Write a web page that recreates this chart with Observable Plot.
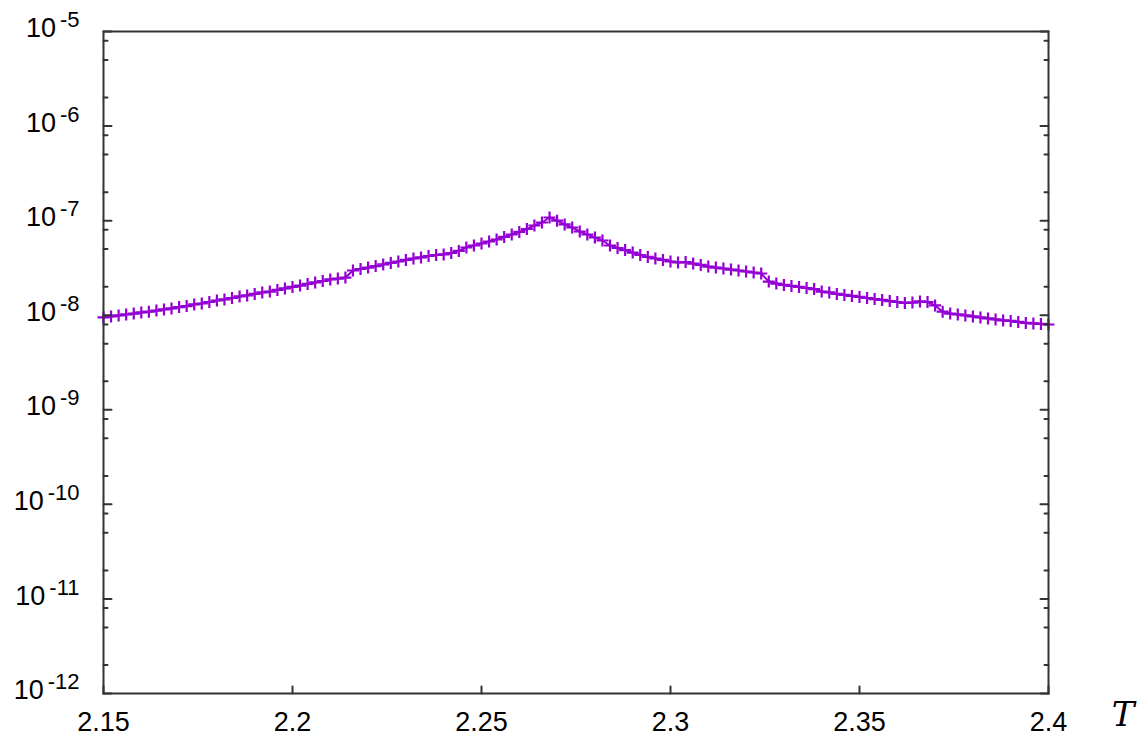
<!DOCTYPE html>
<html><head><meta charset="utf-8">
<script src="https://cdn.jsdelivr.net/npm/d3@7"></script>
<script src="https://cdn.jsdelivr.net/npm/@observablehq/plot@0.6"></script>
<style>html,body{margin:0;padding:0;background:#fff;}</style>
</head><body><div id="chart"></div>
<script>
// Temperature grid (x)
const T = [
  2.150,2.152,2.154,2.156,2.158,2.160,2.162,2.164,2.166,2.168,
  2.170,2.172,2.174,2.176,2.178,2.180,2.182,2.184,2.186,2.188,
  2.190,2.192,2.194,2.196,2.198,2.200,2.202,2.204,2.206,2.208,
  2.210,2.212,2.214,2.216,2.218,2.220,2.222,2.224,2.226,2.228,
  2.230,2.232,2.234,2.236,2.238,2.240,2.242,2.244,2.246,2.248,
  2.250,2.252,2.254,2.256,2.258,2.260,2.262,2.264,2.266,2.268,
  2.270,2.272,2.274,2.276,2.278,2.280,2.282,2.284,2.286,2.288,
  2.290,2.292,2.294,2.296,2.298,2.300,2.302,2.304,2.306,2.308,
  2.310,2.312,2.314,2.316,2.318,2.320,2.322,2.324,2.326,2.328,
  2.330,2.332,2.334,2.336,2.338,2.340,2.342,2.344,2.346,2.348,
  2.350,2.352,2.354,2.356,2.358,2.360,2.362,2.364,2.366,2.368,
  2.370,2.372,2.374,2.376,2.378,2.380,2.382,2.384,2.386,2.388,
  2.390,2.392,2.394,2.396,2.398,2.400
];
// Series values (y, log scale)
const C = [
  9.47e-9,9.70e-9,9.94e-9,1.02e-8,1.04e-8,1.07e-8,1.09e-8,1.12e-8,1.15e-8,1.18e-8,
  1.22e-8,1.25e-8,1.30e-8,1.33e-8,1.38e-8,1.43e-8,1.47e-8,1.52e-8,1.58e-8,1.62e-8,
  1.68e-8,1.74e-8,1.78e-8,1.85e-8,1.92e-8,1.99e-8,2.06e-8,2.14e-8,2.22e-8,2.30e-8,
  2.39e-8,2.44e-8,2.50e-8,2.97e-8,3.08e-8,3.19e-8,3.31e-8,3.44e-8,3.57e-8,3.70e-8,
  3.84e-8,3.98e-8,4.08e-8,4.23e-8,4.33e-8,4.39e-8,4.55e-8,4.78e-8,5.20e-8,5.46e-8,
  5.73e-8,6.02e-8,6.32e-8,6.72e-8,7.14e-8,7.59e-8,8.16e-8,8.89e-8,9.56e-8,1.08e-7,
  1.00e-7,9.11e-8,8.46e-8,7.68e-8,7.14e-8,6.63e-8,6.17e-8,5.46e-8,5.14e-8,4.89e-8,
  4.60e-8,4.33e-8,4.13e-8,3.98e-8,3.84e-8,3.70e-8,3.61e-8,3.65e-8,3.52e-8,3.40e-8,
  3.27e-8,3.19e-8,3.12e-8,3.04e-8,2.97e-8,2.90e-8,2.83e-8,2.76e-8,2.27e-8,2.16e-8,
  2.09e-8,2.04e-8,1.99e-8,1.94e-8,1.89e-8,1.78e-8,1.74e-8,1.68e-8,1.64e-8,1.60e-8,
  1.56e-8,1.52e-8,1.48e-8,1.45e-8,1.41e-8,1.38e-8,1.35e-8,1.36e-8,1.40e-8,1.38e-8,
  1.27e-8,1.09e-8,1.04e-8,1.02e-8,9.94e-9,9.70e-9,9.47e-9,9.24e-9,9.02e-9,8.80e-9,
  8.70e-9,8.49e-9,8.28e-9,8.18e-9,8.08e-9,7.98e-9
];
const xTicks = [2.15, 2.2, 2.25, 2.3, 2.35, 2.4];
const xTickLabels = ["2.15", "2.2", "2.25", "2.3", "2.35", "2.4"];
const yMajor = [1e-12, 1e-11, 1e-10, 1e-9, 1e-8, 1e-7, 1e-6, 1e-5];
const yExponents = ["-12", "-11", "-10", "-9", "-8", "-7", "-6", "-5"];
const yMinorFactors = [2, 5, 8];
const xTitle = "T";

const data = T.map((t, i) => ({T: t, C: C[i]}));
const yMinor = yMajor.slice(0, -1).flatMap(m => yMinorFactors.map(f => m * f));

const purple = "#9400d3";
const axisColor = "#333333";

const tickShape = {draw(ctx, l) { ctx.moveTo(0, 0); ctx.lineTo(0, -l); }};
const plusSymbol = {draw(ctx, size) {
  const h = Math.sqrt(size / Math.PI);
  ctx.moveTo(-h, 0); ctx.lineTo(h, 0);
  ctx.moveTo(0, -h); ctx.lineTo(0, h);
}};

const chart = Plot.plot({
  width: 1140,
  height: 738,
  marginLeft: 103,
  marginRight: 92,
  marginTop: 31,
  marginBottom: 45,
  x: {domain: [2.15, 2.4]},
  y: {type: "log", domain: [1e-12, 1e-5]},
  style: {fontFamily: "'Liberation Sans', Arial, sans-serif", fontSize: "27px", color: "#000", background: "#fff", overflow: "visible"},
  marks: [
    Plot.line(data, {x: "T", y: "C", stroke: purple, strokeWidth: 2}),
    Plot.dot(data, {x: "T", y: "C", symbol: plusSymbol, r: 6, stroke: purple, strokeWidth: 2.2, fill: "none"}),
    // ticks (inward)
    Plot.vector(yMajor, {y: d => d, frameAnchor: "left", length: 8, rotate: 90, anchor: "start", shape: tickShape, stroke: axisColor, strokeWidth: 2}),
    Plot.vector(yMinor, {y: d => d, frameAnchor: "left", length: 4, rotate: 90, anchor: "start", shape: tickShape, stroke: axisColor, strokeWidth: 2}),
    Plot.vector(yMajor, {y: d => d, frameAnchor: "right", length: 8, rotate: -90, anchor: "start", shape: tickShape, stroke: axisColor, strokeWidth: 2}),
    Plot.vector(yMinor, {y: d => d, frameAnchor: "right", length: 4, rotate: -90, anchor: "start", shape: tickShape, stroke: axisColor, strokeWidth: 2}),
    Plot.vector(xTicks, {x: d => d, frameAnchor: "bottom", length: 7, rotate: 0, anchor: "start", shape: tickShape, stroke: axisColor, strokeWidth: 2}),
    Plot.axisY(yMajor, {tickSize: 0, tickPadding: 24, label: null, fontSize: 27, tickFormat: d => "10^" + yExponents[yMajor.indexOf(d)]}),
    Plot.axisX(xTicks, {tickSize: 0, tickPadding: 18, label: null, fontSize: 27, tickFormat: d => xTickLabels[xTicks.indexOf(d)]}),
    Plot.frame({stroke: axisColor, strokeWidth: 2}),
    Plot.text([xTitle], {frameAnchor: "bottom-right", dx: 86, dy: 32, text: d => d, fontFamily: "'DejaVu Serif', serif", fontStyle: "italic", fontSize: 34, fill: "#000"})
  ]
});

// superscript exponents on the y tick labels
d3.select(chart).selectAll('g[aria-label="y-axis tick label"] text').each(function() {
  const s = this.textContent;
  const parts = s.split("^");
  if (parts.length !== 2) return;
  const t = d3.select(this);
  t.text(null);
  t.attr("dy", -3);
  t.append("tspan").text(parts[0]);
  t.append("tspan").attr("dx", 4).attr("dy", -10).attr("font-size", "22px").text(parts[1]);
});

document.getElementById("chart").append(chart);
</script>
</body></html>
